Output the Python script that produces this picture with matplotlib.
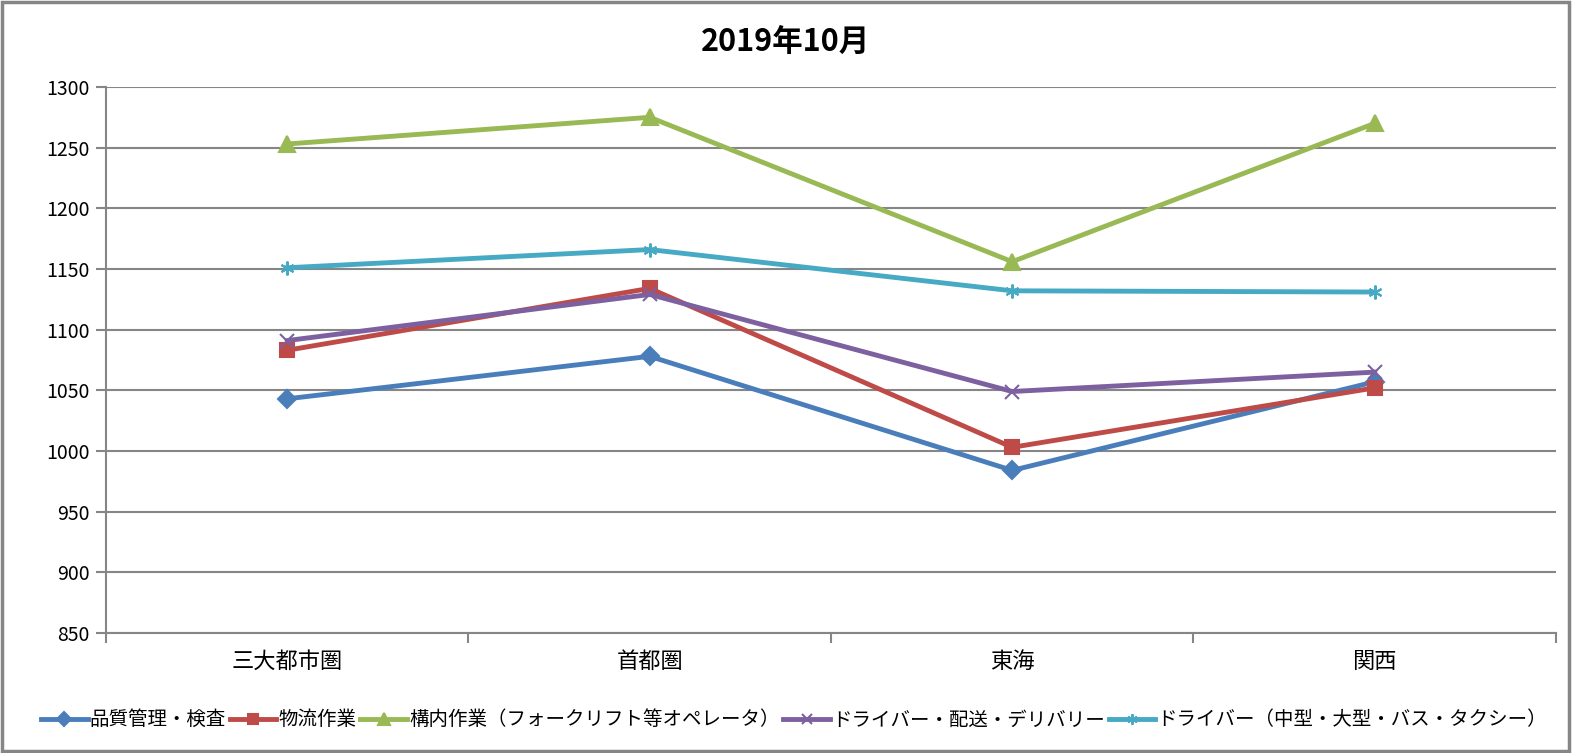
"""
    2019年10月 エリア別 平均時給の折れ線グラフ
"""
import matplotlib.pyplot as plt
from matplotlib.patches import Rectangle

plt.rcParams['font.family'] = ['Noto Sans CJK JP', 'DejaVu Sans']

# データ
areas = ['三大都市圏', '首都圏', '東海', '関西']
hinshitsu = [1043, 1078, 984, 1057]
butsuryu = [1083, 1134, 1003, 1052]
konai = [1253, 1275, 1156, 1270]
driver_haiso = [1091, 1129, 1049, 1065]
driver_chugata = [1151, 1166, 1132, 1131]
yticks = [850, 900, 950, 1000, 1050, 1100, 1150, 1200, 1250, 1300]

series = [
    ('品質管理・検査', hinshitsu, '#4A7EBB', 'D', 9),
    ('物流作業', butsuryu, '#BE4B48', 's', 10),
    ('構内作業（フォークリフト等オペレータ）', konai, '#98B954', '^', 11),
    ('ドライバー・配送・デリバリー', driver_haiso, '#7D60A0', 'x', 10),
    ('ドライバー（中型・大型・バス・タクシー）', driver_chugata, '#46AAC5', (6, 2, 0), 10),
]

fig = plt.figure(figsize=(15.72, 7.53), dpi=100)
ax = fig.add_axes([0.0674, 0.1594, 0.9224, 0.7251])

x = list(range(len(areas)))
for name, vals, color, marker, ms in series:
    ax.plot(x, vals, color=color, linewidth=3.5, marker=marker, markersize=ms,
            markerfacecolor=color, markeredgecolor=color, markeredgewidth=1.5,
            label=name, zorder=3)

# 軸の設定
ax.set_xlim(-0.5, 3.5)
ax.set_ylim(850, 1300)
ax.set_yticks(yticks)
ax.set_yticklabels([str(v) for v in yticks], fontsize=14)
ax.set_xticks([-0.5, 0.5, 1.5, 2.5, 3.5])
ax.set_xticklabels([])
ax.set_xticks(x, minor=True)
ax.set_xticklabels(areas, minor=True, fontsize=16)
ax.tick_params(axis='x', which='minor', length=0, pad=12)
ax.tick_params(axis='x', which='major', length=7, color='#868686', width=1.5)
ax.tick_params(axis='y', length=7, color='#868686', width=1.5, pad=5)
ax.grid(True, axis='y', color='#868686', linewidth=1.5, zorder=0)
for side in ['top', 'right']:
    ax.spines[side].set_visible(False)
for side in ['left', 'bottom']:
    ax.spines[side].set_color('#868686')
    ax.spines[side].set_linewidth(1.5)

fig.suptitle('2019年10月', fontsize=22, fontweight='bold', y=0.965)

fig.legend(loc='center', bbox_to_anchor=(0.505, 0.044), ncol=5, frameon=False,
           fontsize=14, handlelength=2.4, handletextpad=0.1, columnspacing=0.2,
           markerscale=0.75, borderaxespad=0)

# 外枠
fig.patches.append(Rectangle((0.001, 0.002), 0.997, 0.996, transform=fig.transFigure,
                             fill=False, edgecolor='#868686', linewidth=2.5))

plt.savefig('out.png', dpi=100)
